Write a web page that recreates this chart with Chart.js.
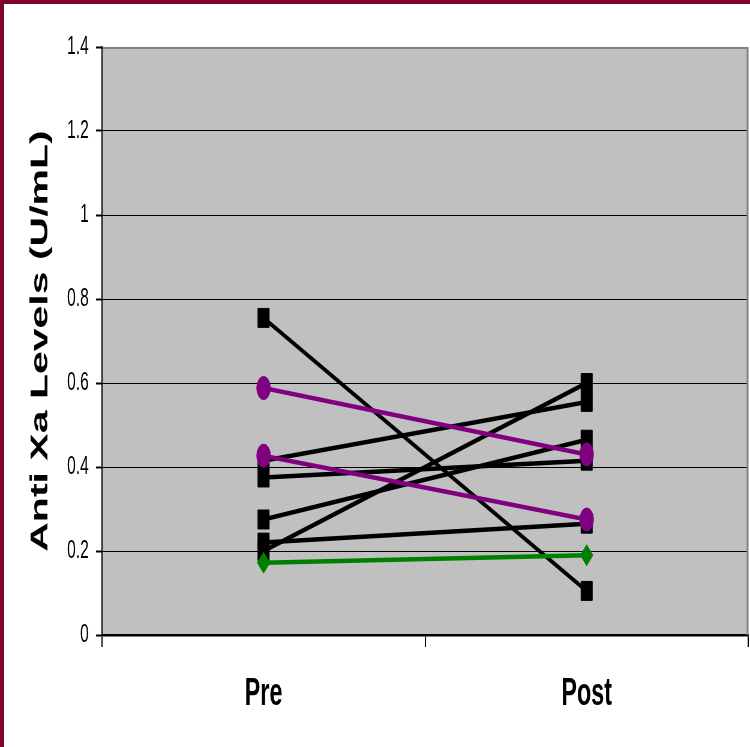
<!DOCTYPE html>
<html>
<head>
<meta charset="utf-8">
<title>Anti Xa Levels</title>
<script src="https://cdn.jsdelivr.net/npm/chart.js@4/dist/chart.umd.min.js"></script>
<style>
  html, body { margin: 0; padding: 0; background: #ffffff; overflow: hidden; }
  #page { position: relative; width: 750px; height: 747px; overflow: hidden; }
  /* the original picture is squeezed sideways, so the chart is drawn wide and scaled back */
  #wrap { position: absolute; left: 0; top: 0; width: 1250px; height: 747px;
          transform: scaleX(0.6); transform-origin: 0 0; }
  #edgeLeft { position: absolute; left: 0; top: 0; width: 4px; height: 747px; background: #7e0530; }
  #edgeTop { position: absolute; left: 0; top: 0; width: 750px; height: 4px; background: #7e0530; }
</style>
</head>
<body>
<div id="page">
  <div id="wrap"><canvas id="grafico" width="1250" height="747"></canvas></div>
  <div id="edgeLeft"></div>
  <div id="edgeTop"></div>
</div>
<script>
// categorias e valores
const categories = ['Pre', 'Post'];

// pacientes em preto (quadrados)
const paciente1 = [0.755, 0.105];
const paciente2 = [0.415, 0.555];
const paciente3 = [0.375, 0.415];
const paciente4 = [0.275, 0.465];
const paciente5 = [0.20, 0.60];
const paciente6 = [0.22, 0.265];
// pacientes em roxo (círculos)
const paciente7 = [0.588, 0.43];
const paciente8 = [0.427, 0.275];
// paciente em verde (losango)
const paciente9 = [0.172, 0.19];

const yMin = 0;
const yMax = 1.4;
const yStep = 0.2;

const fontFamily = '"Liberation Sans", Arial, sans-serif';

function serie(valores, cor, estilo, raio) {
    return {
        data: valores,
        borderColor: cor,
        backgroundColor: cor,
        borderWidth: 4.5,
        pointStyle: estilo,
        pointRadius: raio,
        pointBorderWidth: 1,
        pointBackgroundColor: cor,
        pointBorderColor: cor,
        tension: 0,
        clip: false
    };
}

// fundo cinza e moldura da área do gráfico
const molduraPlot = {
    id: 'molduraPlot',
    beforeDraw(chart) {
        const { ctx, chartArea: { left, top, right, bottom } } = chart;
        ctx.save();
        ctx.fillStyle = '#c0c0c0';
        ctx.fillRect(left, top, right - left, bottom - top);
        ctx.restore();
    },
    beforeDatasetsDraw(chart) {
        const { ctx, chartArea: { left, top, right, bottom } } = chart;
        ctx.save();
        ctx.strokeStyle = '#808080';
        ctx.lineWidth = 2;
        ctx.beginPath();
        ctx.moveTo(left + 1, top + 1);
        ctx.lineTo(right, top + 1);
        ctx.stroke();
        ctx.lineWidth = 3;
        ctx.beginPath();
        ctx.moveTo(right - 1, top);
        ctx.lineTo(right - 1, bottom);
        ctx.stroke();
        ctx.restore();
    }
};

const config = {
    type: 'line',
    data: {
        labels: categories,
        datasets: [
            serie(paciente9, '#008000', 'rectRot', 10.5),
            serie(paciente7, '#800080', 'circle', 11.5),
            serie(paciente8, '#800080', 'circle', 11.5),
            serie(paciente1, '#000000', 'rect', 13.4),
            serie(paciente2, '#000000', 'rect', 13.4),
            serie(paciente3, '#000000', 'rect', 13.4),
            serie(paciente4, '#000000', 'rect', 13.4),
            serie(paciente5, '#000000', 'rect', 13.4),
            serie(paciente6, '#000000', 'rect', 13.4)
        ]
    },
    options: {
        responsive: false,
        maintainAspectRatio: false,
        devicePixelRatio: 1,
        animation: false,
        layout: { autoPadding: false, padding: { top: 47, right: 3, left: 0, bottom: 0 } },
        plugins: {
            legend: { display: false },
            tooltip: { enabled: false }
        },
        scales: {
            x: {
                type: 'category',
                offset: true,
                afterFit(scale) {
                    scale.height = 112;
                    scale.paddingLeft = 0;
                    scale.paddingRight = 0;
                },
                border: { display: true, color: '#000000', width: 2.5 },
                grid: {
                    offset: true,
                    drawOnChartArea: false,
                    drawTicks: true,
                    tickLength: 12,
                    color: '#000000',
                    lineWidth: 2
                },
                ticks: {
                    color: '#000000',
                    padding: 24,
                    maxRotation: 0,
                    font: { family: fontFamily, size: 39, weight: 'bold' }
                }
            },
            y: {
                min: yMin,
                max: yMax,
                afterFit(scale) { scale.width = 170; },
                border: { display: true, color: '#000000', width: 2 },
                grid: {
                    color: '#000000',
                    lineWidth: 1,
                    drawTicks: true,
                    tickLength: 10,
                    tickColor: '#000000',
                    tickWidth: 2
                },
                ticks: {
                    stepSize: yStep,
                    color: '#000000',
                    padding: 12,
                    font: { family: fontFamily, size: 26 },
                    callback: function(v) { return String(+Number(v).toFixed(1)); }
                },
                title: {
                    display: true,
                    text: 'Anti Xa Levels (U/mL)',
                    color: '#000000',
                    padding: { top: 43, bottom: 0 },
                    font: { family: fontFamily, size: 41, weight: 'bold' }
                }
            }
        }
    },
    plugins: [molduraPlot]
};

new Chart(document.getElementById('grafico'), config);
</script>
</body>
</html>
